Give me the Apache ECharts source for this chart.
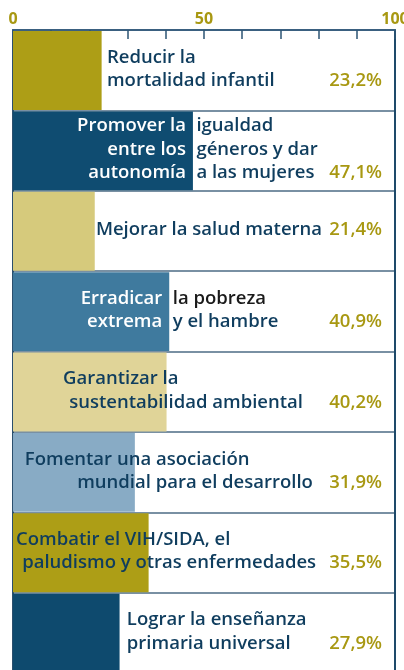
<!DOCTYPE html>
<html>
<head>
<meta charset="utf-8">
<script src="https://cdn.jsdelivr.net/npm/echarts@6/dist/echarts.min.js"></script>
<style>
html,body{margin:0;padding:0;background:#ffffff;overflow:hidden;}
#chart{width:404px;height:670px;}
</style>
</head>
<body>
<div id="chart"></div>
<script>
// ---- data ----
const categories = [
  'Reducir la mortalidad infantil',
  'Promover la igualdad entre los géneros y dar autonomía a las mujeres',
  'Mejorar la salud materna',
  'Erradicar la pobreza extrema y el hambre',
  'Garantizar la sustentabilidad ambiental',
  'Fomentar una asociación mundial para el desarrollo',
  'Combatir el VIH/SIDA, el paludismo y otras enfermedades',
  'Lograr la enseñanza primaria universal'
];
const values = [23.2, 47.1, 21.4, 40.9, 40.2, 31.9, 35.5, 27.9];
const tickLabels = ['0', '50', '100'];

// label text, split into lines; [left, right] pairs are split at the bar end
const labelLines = [
  ['Reducir la', 'mortalidad infantil'],
  [['Promover la', 'igualdad'], ['entre los', 'géneros y dar'], ['autonomía', 'a las mujeres']],
  ['Mejorar la salud materna'],
  [['Erradicar', 'la pobreza'], ['extrema', 'y el hambre']],
  ['Garantizar la', 'sustentabilidad ambiental'],
  ['Fomentar una asociación', 'mundial para el desarrollo'],
  ['Combatir el VIH/SIDA, el', 'paludismo y otras enfermedades'],
  ['Lograr la enseñanza', 'primaria universal']
];

// ---- layout / style ----
const labelStart = [
  [24.6, 24.6], null, [21.7], null, [13.1, 14.7], [3.1, 16.8], [0.8, 2.4], [29.8, 29.8]
];
const barColors = ['#ad9e16', '#0f4c71', '#d6ca7c', '#3f7a9e', '#e0d498', '#88abc5', '#ad9e16', '#0e4a6e'];
const navy = '#0f3d5e';
const gold = '#a89812';
const FONT = '600 18.5px "Open Sans"';

const chart = echarts.init(document.getElementById('chart'), null, {renderer: 'canvas'});

function fmtPct(v) { return v.toFixed(1).replace('.', ',') + '%'; }

const option = {
  animation: false,
  grid: {left: 13, top: 30, width: 382, height: 643, containLabel: false, outerBoundsMode: 'none'},
  xAxis: {
    type: 'value', position: 'top', min: 0, max: 100, interval: 10,
    axisLine: {show: true, lineStyle: {color: '#3a6080', width: 2}},
    axisTick: {show: true, inside: true, length: 9, lineStyle: {color: '#2c5474', width: 1.5}},
    axisLabel: {
      margin: 3, color: gold, fontWeight: 'bold', fontSize: 16, fontFamily: 'Open Sans',
      hideOverlap: false,
      formatter: function (v) { return tickLabels.indexOf(String(v)) >= 0 ? String(v) : ''; }
    },
    splitLine: {show: false}
  },
  yAxis: [{
    type: 'category', inverse: true, data: categories,
    axisLabel: {show: false}, axisTick: {show: false},
    axisLine: {show: true, lineStyle: {color: '#2b4f6d', width: 2}},
    splitLine: {show: true, lineStyle: {color: '#4d6b85', width: 1.5}}
  }, {
    type: 'category', inverse: true, data: categories, position: 'right',
    axisLabel: {show: false}, axisTick: {show: false},
    axisLine: {show: true, lineStyle: {color: '#1e4a6a', width: 2}},
    splitLine: {show: false}
  }],
  series: [{
    type: 'custom',
    data: values.map(function (v, i) { return [i, v]; }),
    encode: {x: 1, y: 0},
    renderItem: function (params, api) {
      const i = api.value(0);
      const v = api.value(1);
      const p0 = api.coord([0, i]);
      const p1 = api.coord([v, i]);
      const band = api.size([0, 1])[1];
      const top = p0[1] - band / 2;
      const children = [{
        type: 'rect',
        shape: {x: p0[0], y: top + 1, width: p1[0] - p0[0], height: band - 1.5},
        style: {fill: barColors[i]}
      }];
      const lines = labelLines[i];
      const n = lines.length;
      const lh = 23.5;
      let lastY = 0;
      lines.forEach(function (ln, k) {
        const y = p0[1] - 1 + (k - (n - 1) / 2) * lh;
        lastY = y;
        if (Array.isArray(ln)) {
          children.push({type: 'text', x: p1[0] - 7, y: y,
            style: {text: ln[0], font: FONT, fill: '#ffffff', align: 'right', verticalAlign: 'middle'}});
          children.push({type: 'text', x: p1[0] + 3.5, y: y,
            style: {text: ln[1], font: FONT, fill: (i === 3 && k === 0) ? '#1a1a1a' : navy, align: 'left', verticalAlign: 'middle'}});
        } else {
          const sx = api.coord([labelStart[i][k], i])[0];
          children.push({type: 'text', x: sx, y: y,
            style: {text: ln, font: FONT, fill: navy, align: 'left', verticalAlign: 'middle'}});
        }
      });
      const right = api.coord([100, i])[0] - 13;
      children.push({type: 'text', x: right, y: lastY,
        style: {text: fmtPct(v), font: FONT, fill: gold, align: 'right', verticalAlign: 'middle'}});
      return {type: 'group', children: children};
    }
  }]
};
chart.setOption(option);
</script>
</body>
</html>
